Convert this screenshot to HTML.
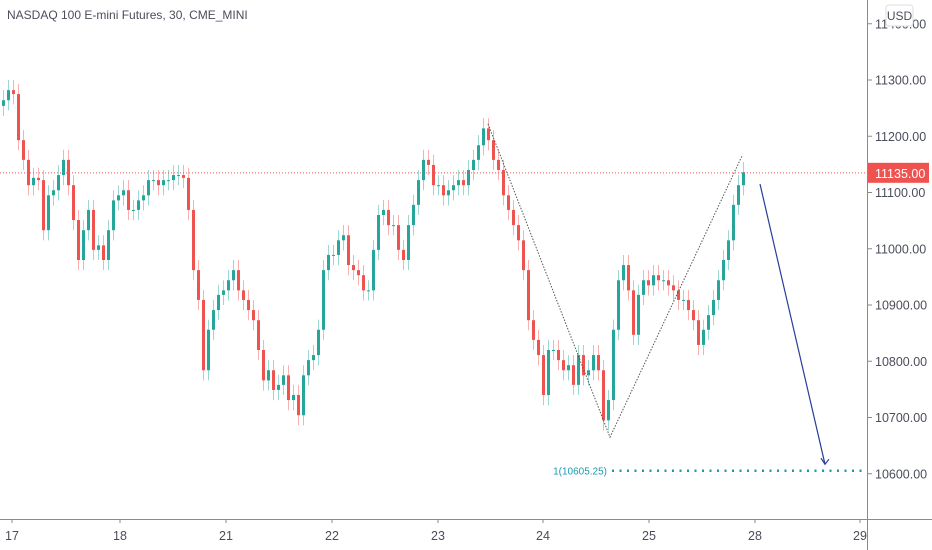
<!DOCTYPE html>
<html><head><meta charset="utf-8"><style>
body{margin:0;background:#fff;font-family:"Liberation Sans",sans-serif;}
svg{display:block}
text{font-family:"Liberation Sans",sans-serif;}
</style></head><body>
<svg id="chart" width="932" height="550" viewBox="0 0 932 550" xmlns="http://www.w3.org/2000/svg">
<rect width="932" height="550" fill="#fff"/>
<text x="7" y="19" font-size="12" fill="#4a4e5a">NASDAQ 100 E-mini Futures, 30, CME_MINI</text>
<g id="candles"></g>
<g id="overlay"></g>
<line x1="867.5" y1="0" x2="867.5" y2="550" stroke="#8a8a8a" stroke-width="1"/>
<line x1="0" y1="519.5" x2="932" y2="519.5" stroke="#8a8a8a" stroke-width="1"/>
<g id="yaxis"></g>
<g id="xaxis"></g>
</svg>
<script>
const closes=[11264,11282,11275,11193,11158,11113,11126,11122,11033,11095,11104,11131,11158,11113,11051,10980,11033,11069,10998,11006,10980,11033,11086,11095,11104,11069,11069,11086,11095,11122,11122,11113,11122,11122,11131,11131,11126,11069,10962,10909,10784,10856,10891,10918,10926,10944,10962,10926,10909,10891,10873,10820,10766,10784,10749,10758,10775,10731,10740,10704,10775,10802,10811,10856,10962,10989,10989,11015,11024,10971,10962,10953,10926,10926,10998,11060,11069,11042,11042,10998,10980,11042,11078,11122,11158,11149,11113,11113,11095,11104,11113,11122,11113,11140,11158,11184,11214,11193,11158,11140,11095,11069,11042,11015,10962,10873,10838,10811,10740,10820,10820,10802,10784,10793,10758,10811,10775,10784,10811,10784,10695,10731,10856,10944,10971,10926,10847,10918,10944,10935,10953,10944,10944,10935,10926,10909,10909,10891,10873,10829,10856,10882,10909,10944,10980,11015,11078,11113,11136];
const priceTicks=[11400,11300,11200,11100,10700,10800,10900,11000,10600];
const dateLabels=["17","18","21","22","23","24","25","28","29"];
const dateIdx=[2,23.6,44.8,66,87.2,108.2,129.4,150.6,171.6];
const lastPrice=11135;
const targetPrice=10605.25;
const zigzag=[[97.2,11222],[121.6,10665],[148,11165]];
const arrowPts=[[151.6,11115],[164.6,10617]];

const NS="http://www.w3.org/2000/svg";
const Y=p=>80+(11300-p)*0.5625;
const X=i=>2+i*5;
function mk(tag,attrs,parent){const e=document.createElementNS(NS,tag);for(const k in attrs)e.setAttribute(k,attrs[k]);parent.appendChild(e);return e;}
const cg=document.getElementById('candles');
closes.forEach((c,i)=>{
  const o=i?closes[i-1]:c-10;
  const up=c>=o;const col=up?"#26a69a":"#ef5350";
  const hi=Math.max(o,c)+18, lo=Math.min(o,c)-18;
  const g=mk('g',{},cg);
  
  
  mk('line',{x1:X(i)+1.5,x2:X(i)+1.5,y1:Y(hi),y2:Y(lo),stroke:col,'stroke-opacity':0.45,'stroke-width':1},g);
  const t=Math.min(Y(o),Y(c)),h=Math.max(1,Math.abs(Y(o)-Y(c)));
  mk('rect',{x:X(i),y:t,width:3,height:h,fill:col},g);
});
const ov=document.getElementById('overlay');
let e=mk('line',{x1:0,x2:867,y1:Y(lastPrice),y2:Y(lastPrice),stroke:"#ef5350",'stroke-dasharray':"1 2",'stroke-width':1},ov);


e=mk('polyline',{points:zigzag.map(p=>X(p[0])+","+Y(p[1])).join(" "),fill:"none",stroke:"#555",'stroke-dasharray':"1.5 1.5",'stroke-width':1},ov);


const ax1=X(arrowPts[0][0]),ay1=Y(arrowPts[0][1]),ax2=X(arrowPts[1][0]),ay2=Y(arrowPts[1][1]);
e=mk('g',{},ov);


mk('line',{x1:ax1,y1:ay1,x2:ax2,y2:ay2,stroke:"#2a3d9a",'stroke-width':1.2},e);
mk('polyline',{points:(ax2-4)+","+(ay2-6)+" "+ax2+","+ay2+" "+(ax2+4)+","+(ay2-5),fill:"none",stroke:"#2a3d9a",'stroke-width':1.2},e);
e=mk('line',{x1:612,x2:866,y1:Y(targetPrice),y2:Y(targetPrice),stroke:"#1a9bb0",'stroke-dasharray':"2 5.5",'stroke-width':2.5},ov);


e=mk('text',{x:607,y:Y(targetPrice)+3.5,'font-size':10,fill:"#1a9bb0",'text-anchor':"end"},ov);
e.textContent="1("+targetPrice.toFixed(2)+")";



const ya=document.getElementById('yaxis');
priceTicks.forEach(p=>{
  mk('line',{x1:867,x2:872,y1:Y(p),y2:Y(p),stroke:"#8a8a8a"},ya);
  const t=mk('text',{x:875,y:Y(p)+4.5,'font-size':12.5,fill:"#4a4e5a"},ya);
  t.textContent=p.toFixed(2);
  
  
});
e=mk('g',{},ya);


mk('rect',{x:886,y:5,width:27,height:21,rx:3,fill:"#fff",stroke:"#ddd"},e);
mk('text',{x:899.5,y:20,'font-size':12,fill:"#4a4e5a",'text-anchor':"middle"},e).textContent="USD";
e=mk('g',{},ya);


mk('rect',{x:868,y:Y(lastPrice)-10,width:61,height:20,fill:"#ef5350"},e);
mk('text',{x:875,y:Y(lastPrice)+5,'font-size':12.5,fill:"#fff"},e).textContent=lastPrice.toFixed(2);

const xa=document.getElementById('xaxis');
dateLabels.forEach((d,k)=>{
  const x=X(dateIdx[k]);
  mk('line',{x1:x,x2:x,y1:519,y2:523,stroke:"#8a8a8a"},xa);
  const t=mk('text',{x:x,y:540,'font-size':12.5,fill:"#4a4e5a",'text-anchor':"middle"},xa);
  t.textContent=d;
  
  
});
</script>
</body></html>
